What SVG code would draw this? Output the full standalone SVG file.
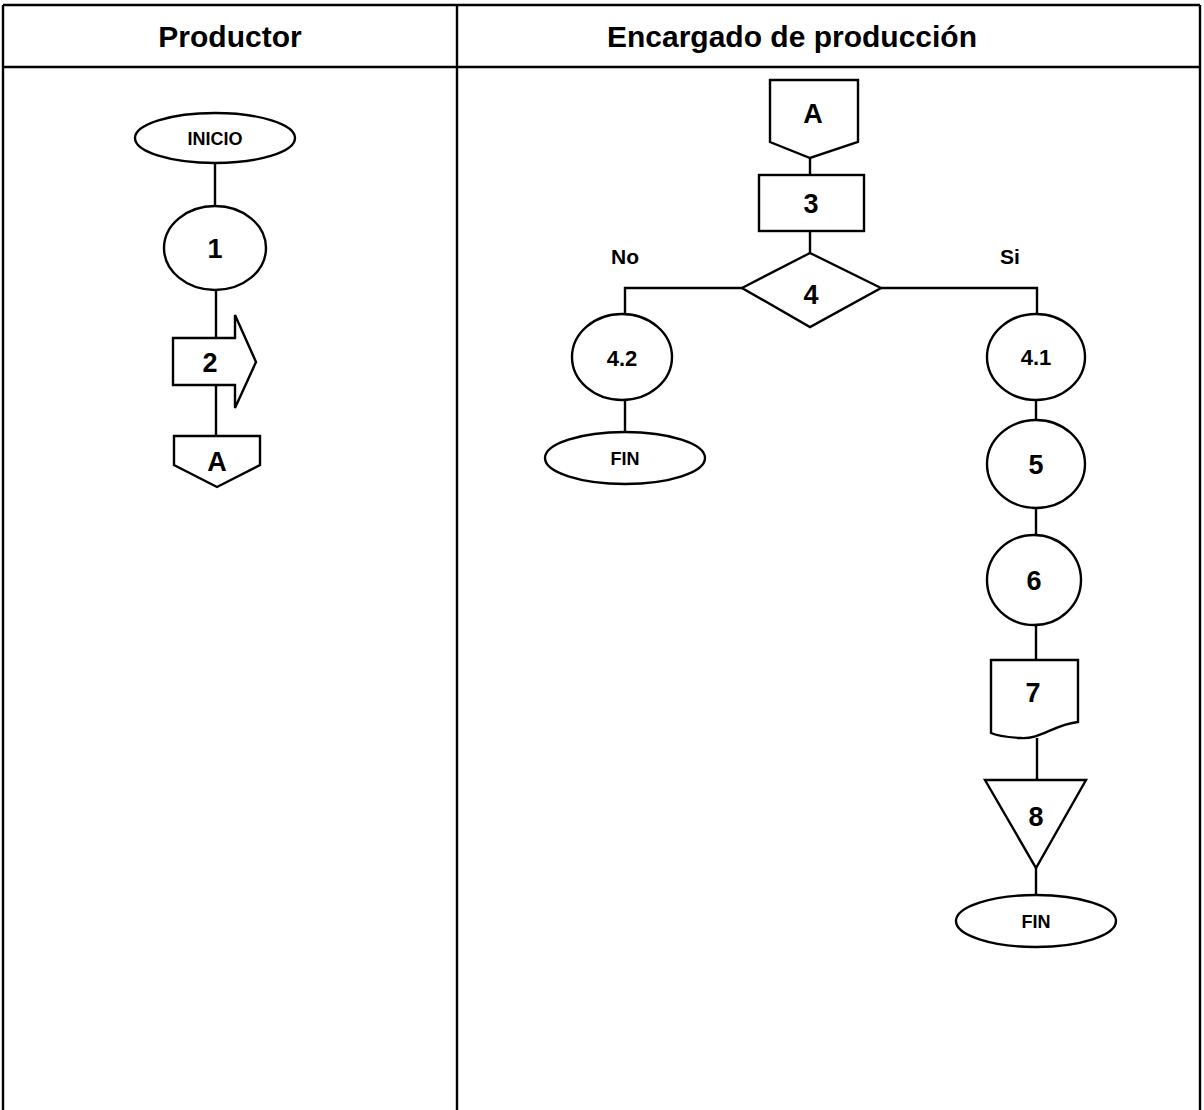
<svg xmlns="http://www.w3.org/2000/svg" width="1204" height="1110" viewBox="0 0 1204 1110">
<style>
.s{fill:#fff;stroke:#000;stroke-width:2.4}
.c{fill:none;stroke:#000;stroke-width:2.4}
.t{font-family:"Liberation Sans",Arial,sans-serif;font-weight:bold;fill:#000;text-anchor:middle}
.h{font-size:30px}
.n{font-size:27px}
.m{font-size:18px}
.l{font-size:21px}
.k{font-size:22px}
</style>
<rect width="1204" height="1110" fill="#fff"/>
<g id="table">
<path class="c" d="M3,5H1200M3,67H1200M3,5V1110M457,5V1110M1200,5V1110"/>
<text class="t h" x="230" y="47">Productor</text>
<text class="t h" x="792" y="47">Encargado de producción</text>
</g>
<g id="connectors">
<path class="c" d="M215,163V207M216,290V343M216,385V436"/>
<path class="c" d="M810,158V175M810,231V253M742,288H625V315M625,400V432M881,288H1037V315M1036,400V420M1036,508V535M1036,626V660M1037,738V780M1036,868V895"/>
</g>
<g id="inicio"><ellipse class="s" cx="215" cy="138" rx="80" ry="25"/><text class="t m" x="215" y="145">INICIO</text></g>
<g id="n1"><ellipse class="s" cx="215" cy="248" rx="51" ry="42"/><text class="t n" x="215" y="258">1</text></g>
<g id="n2"><path class="s" d="M173,338H235V315L256,362L235,408V385H173Z"/><text class="t n" x="210" y="372">2</text></g>
<g id="a1"><path class="s" d="M174,436H260V465L217,487L174,465Z"/><text class="t n" x="217" y="471">A</text></g>
<g id="a2"><path class="s" d="M770,80H858V142L810,158L770,142Z"/><text class="t n" x="813" y="123">A</text></g>
<g id="n3"><rect class="s" x="759" y="175" width="105" height="56"/><text class="t n" x="811" y="213">3</text></g>
<g id="n4"><path class="s" d="M810,253L881,288L810,327L742,288Z"/><text class="t n" x="811" y="304">4</text></g>
<text class="t l" x="625" y="264">No</text>
<text class="t l" x="1010" y="264">Si</text>
<g id="n42"><ellipse class="s" cx="622" cy="357" rx="50" ry="43"/><text class="t k" x="622" y="366">4.2</text></g>
<g id="fin1"><ellipse class="s" cx="625" cy="458" rx="80" ry="26"/><text class="t m" x="625" y="465">FIN</text></g>
<g id="n41"><ellipse class="s" cx="1036" cy="357" rx="49" ry="43"/><text class="t k" x="1036" y="365">4.1</text></g>
<g id="n5"><ellipse class="s" cx="1036" cy="464" rx="49" ry="44"/><text class="t n" x="1036" y="474">5</text></g>
<g id="n6"><ellipse class="s" cx="1034" cy="580" rx="47" ry="45"/><text class="t n" x="1034" y="590">6</text></g>
<g id="n7"><path class="s" d="M991,660H1078V722C1055,724 1040,740 1020,738C1005,737 995,735 991,733Z"/><text class="t n" x="1033" y="702">7</text></g>
<g id="n8"><path class="s" d="M985,780H1086L1036,868Z"/><text class="t n" x="1036" y="826">8</text></g>
<g id="fin2"><ellipse class="s" cx="1036" cy="921" rx="80" ry="26"/><text class="t m" x="1036" y="928">FIN</text></g>
</svg>
